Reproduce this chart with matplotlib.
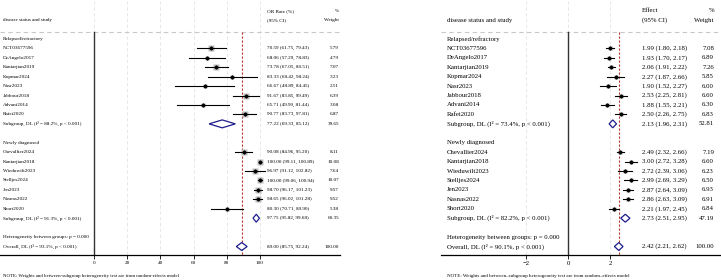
import matplotlib
matplotlib.use("Agg")
import matplotlib.pyplot as plt
from matplotlib.patches import Polygon
from matplotlib.transforms import blended_transform_factory
import numpy as np

plt.rcParams['font.family'] = ['Liberation Serif', 'DejaVu Serif']

# ---------------- data ----------------
group_names = ["Relapsed/refractory", "Newly diagnosed"]
studies_g1 = ["NCT03677596", "DeAngelo2017", "Kantarjian2019", "Kopmar2024",
              "Nasr2023", "Jabbour2018", "Advani2014", "Rafei2020"]
studies_g2 = ["Chevallier2024", "Kantarjian2018", "Wieduwilt2023", "Stelljes2024",
              "Jen2023", "Nasnas2022", "Short2020"]

# Left panel: OR rate (%)
left_est_g1 = [70.59, 68.06, 73.78, 83.33, 66.67, 91.67, 65.71, 90.77]
left_lo_g1 = [61.75, 57.29, 67.05, 68.42, 48.89, 83.85, 49.99, 83.73]
left_hi_g1 = [79.43, 78.83, 80.51, 98.24, 84.45, 99.49, 81.44, 97.81]
left_w_g1 = [5.79, 4.79, 7.07, 3.23, 2.51, 6.39, 3.08, 6.87]
left_est_g2 = [90.08, 100.00, 96.97, 100.00, 98.70, 98.65, 80.30]
left_lo_g2 = [84.96, 99.11, 91.12, 99.06, 96.17, 96.02, 70.71]
left_hi_g2 = [95.20, 100.89, 102.82, 100.94, 101.23, 101.28, 89.90]
left_w_g2 = [8.11, 10.08, 7.64, 10.07, 9.57, 9.52, 5.38]
left_sub = [(77.22, 69.33, 85.12, 39.65), (97.75, 95.82, 99.68, 60.35)]
left_overall = (89.00, 85.75, 92.24, 100.00)
left_sub_text = ["Subgroup, DL (I\u00b2 = 88.2%, p < 0.001)",
                 "Subgroup, DL (I\u00b2 = 91.3%, p < 0.001)"]
left_overall_text = "Overall, DL (I\u00b2 = 93.1%, p < 0.001)"
left_ticks = [0, 20, 40, 60, 80, 100]

# Right panel: effect
right_est_g1 = [1.99, 1.93, 2.06, 2.27, 1.90, 2.53, 1.88, 2.50]
right_lo_g1 = [1.80, 1.70, 1.91, 1.87, 1.52, 2.25, 1.55, 2.26]
right_hi_g1 = [2.18, 2.17, 2.22, 2.66, 2.27, 2.81, 2.21, 2.75]
right_w_g1 = [7.08, 6.89, 7.26, 5.85, 6.00, 6.60, 6.30, 6.83]
right_est_g2 = [2.49, 3.00, 2.72, 2.99, 2.87, 2.86, 2.21]
right_lo_g2 = [2.32, 2.72, 2.39, 2.69, 2.64, 2.63, 1.97]
right_hi_g2 = [2.66, 3.28, 3.06, 3.29, 3.09, 3.09, 2.45]
right_w_g2 = [7.19, 6.60, 6.23, 6.50, 6.93, 6.91, 6.84]
right_sub = [(2.13, 1.96, 2.31, 52.81), (2.73, 2.51, 2.95, 47.19)]
right_overall = (2.42, 2.21, 2.62, 100.00)
right_sub_text = ["Subgroup, DL (I\u00b2 = 73.4%, p < 0.001)",
                  "Subgroup, DL (I\u00b2 = 82.2%, p < 0.001)"]
right_overall_text = "Overall, DL (I\u00b2 = 90.1%, p < 0.001)"
right_ticks = [-2, 0, 2]

het_text = "Heterogeneity between groups: p = 0.000"
note_left = "NOTE: Weights and between-subgroup heterogeneity test are from random-effects model"
note_right = "NOTE: Weights and between\u2013subgroup heterogeneity test are from random\u2013effects model"

W, H = 721, 280
fig = plt.figure(figsize=(W / 100, H / 100), dpi=100)

NAVY = "#1c1c8c"
RED = "#b5352f"
BOX = "#bdbdbd"
GRID = "#e3e3e3"

Y_TOP, Y_BOT = -4.13, 22.9
Y_HDR = -0.74


def panel(px0, px1, xlim, ticks, est_groups, sub, overall, sub_texts, overall_text,
          header1, fs, tfs, box_c, col_val, col_w, col_lab, fmt):
    ax = fig.add_axes([px0 / W, (H - 255) / H, (px1 - px0) / W, 255 / H])
    ax.set_xlim(*xlim)
    ax.set_ylim(Y_BOT, Y_TOP)
    for s in ["top", "right", "left"]:
        ax.spines[s].set_visible(False)
    ax.spines["bottom"].set_linewidth(0.9)
    ax.set_yticks([])
    ax.set_xticks(ticks)
    ax.set_xticklabels([str(t).replace("-", "\u2212") for t in ticks], fontsize=tfs)
    ax.tick_params(axis="x", length=3, width=0.6, pad=1.5)
    for t in ticks:
        ax.axvline(t, color=GRID, lw=0.6, ls=(0, (4, 3)), zorder=0)
    ax.axhline(Y_HDR, color="#c8c8c8", lw=0.8, ls=(0, (4, 3)), zorder=0)
    ax.plot([0, 0], [Y_HDR, Y_BOT], color="#333333", lw=1.0, zorder=1)
    ax.plot([overall[0], overall[0]], [Y_HDR, Y_BOT], color=RED, lw=0.8,
            ls=(0, (2, 1.6)), zorder=2)

    tr = blended_transform_factory(ax.transAxes, ax.transData)
    ax.text(col_lab, -2.0, "disease status and study", fontsize=fs, va="center", transform=tr)
    ax.text(col_val, -2.97, header1, fontsize=fs, va="center", transform=tr)
    ax.text(col_val, -2.0, "(95% CI)", fontsize=fs, va="center", transform=tr)
    ax.text(col_w, -2.97, "%", fontsize=fs, va="center", ha="right", transform=tr)
    ax.text(col_w, -2.0, "Weight", fontsize=fs, va="center", ha="right", transform=tr)

    row = 0
    for gi, (names, est, lo, hi, w) in enumerate(est_groups):
        ax.text(col_lab, row, group_names[gi], fontsize=fs, va="center", transform=tr)
        row += 1
        for n, e, l, h, ww in zip(names, est, lo, hi, w):
            ax.text(col_lab, row, n, fontsize=fs, va="center", transform=tr)
            ax.plot([e], [row], marker="s", ms=box_c * np.sqrt(ww), color=BOX,
                    mec="none", zorder=3)
            ax.plot([l, h], [row, row], color="black", lw=0.8, zorder=4)
            ax.plot([e], [row], marker="D", ms=1.6, color="black", zorder=5)
            ax.text(col_val, row, f"{e:{fmt}} ({l:{fmt}}, {h:{fmt}})", fontsize=fs,
                    va="center", transform=tr)
            ax.text(col_w, row, f"{ww:.2f}", fontsize=fs, va="center", ha="right",
                    transform=tr)
            row += 1
        se, sl, sh, sw = sub[gi]
        ax.text(col_lab, row, sub_texts[gi], fontsize=fs, va="center", transform=tr)
        ax.add_patch(Polygon([(sl, row), (se, row - 0.42), (sh, row), (se, row + 0.42)],
                             closed=True, fc="white", ec=NAVY, lw=0.9, zorder=5))
        ax.text(col_val, row, f"{se:{fmt}} ({sl:{fmt}}, {sh:{fmt}})", fontsize=fs,
                va="center", transform=tr)
        ax.text(col_w, row, f"{sw:.2f}", fontsize=fs, va="center", ha="right", transform=tr)
        row += 2
    ax.text(col_lab, row, het_text, fontsize=fs, va="center", transform=tr)
    row += 1
    oe, ol, oh, ow = overall
    ax.text(col_lab, row, overall_text, fontsize=fs, va="center", transform=tr)
    ax.add_patch(Polygon([(ol, row), (oe, row - 0.42), (oh, row), (oe, row + 0.42)],
                         closed=True, fc="white", ec=NAVY, lw=0.9, zorder=5))
    ax.text(col_val, row, f"{oe:{fmt}} ({ol:{fmt}}, {oh:{fmt}})", fontsize=fs,
            va="center", transform=tr)
    ax.text(col_w, row, f"{ow:.2f}", fontsize=fs, va="center", ha="right", transform=tr)
    return ax


# Left panel: pixel 0..340, 0 -> px 94, 100 -> px 260
lpx = 1.66
panel(0, 340, (-94 / lpx, (340 - 94) / lpx), left_ticks,
      [(studies_g1, left_est_g1, left_lo_g1, left_hi_g1, left_w_g1),
       (studies_g2, left_est_g2, left_lo_g2, left_hi_g2, left_w_g2)],
      left_sub, left_overall, left_sub_text, left_overall_text,
      "OR Rate (%)", 3.7, 3.7, 1.5, 267 / 340, 339 / 340, 3 / 340, ".2f")

# Right panel: pixel 441..720, 0 -> px 568, 1 unit = 21 px
rpx = 21.0
panel(441, 720, ((441 - 568) / rpx, (720 - 568) / rpx), right_ticks,
      [(studies_g1, right_est_g1, right_lo_g1, right_hi_g1, right_w_g1),
       (studies_g2, right_est_g2, right_lo_g2, right_hi_g2, right_w_g2)],
      right_sub, right_overall, right_sub_text, right_overall_text,
      "Effect", 4.85, 4.85, 0.9, (642 - 441) / 279, (714 - 441) / 279, (447 - 441) / 279, ".2f")

fig.text(3 / W, 4 / H, note_left, fontsize=3.5, va="center", ha="left")
fig.text(447 / W, 4 / H, note_right, fontsize=3.6, va="center", ha="left")

fig.savefig("out.png", dpi=100)
